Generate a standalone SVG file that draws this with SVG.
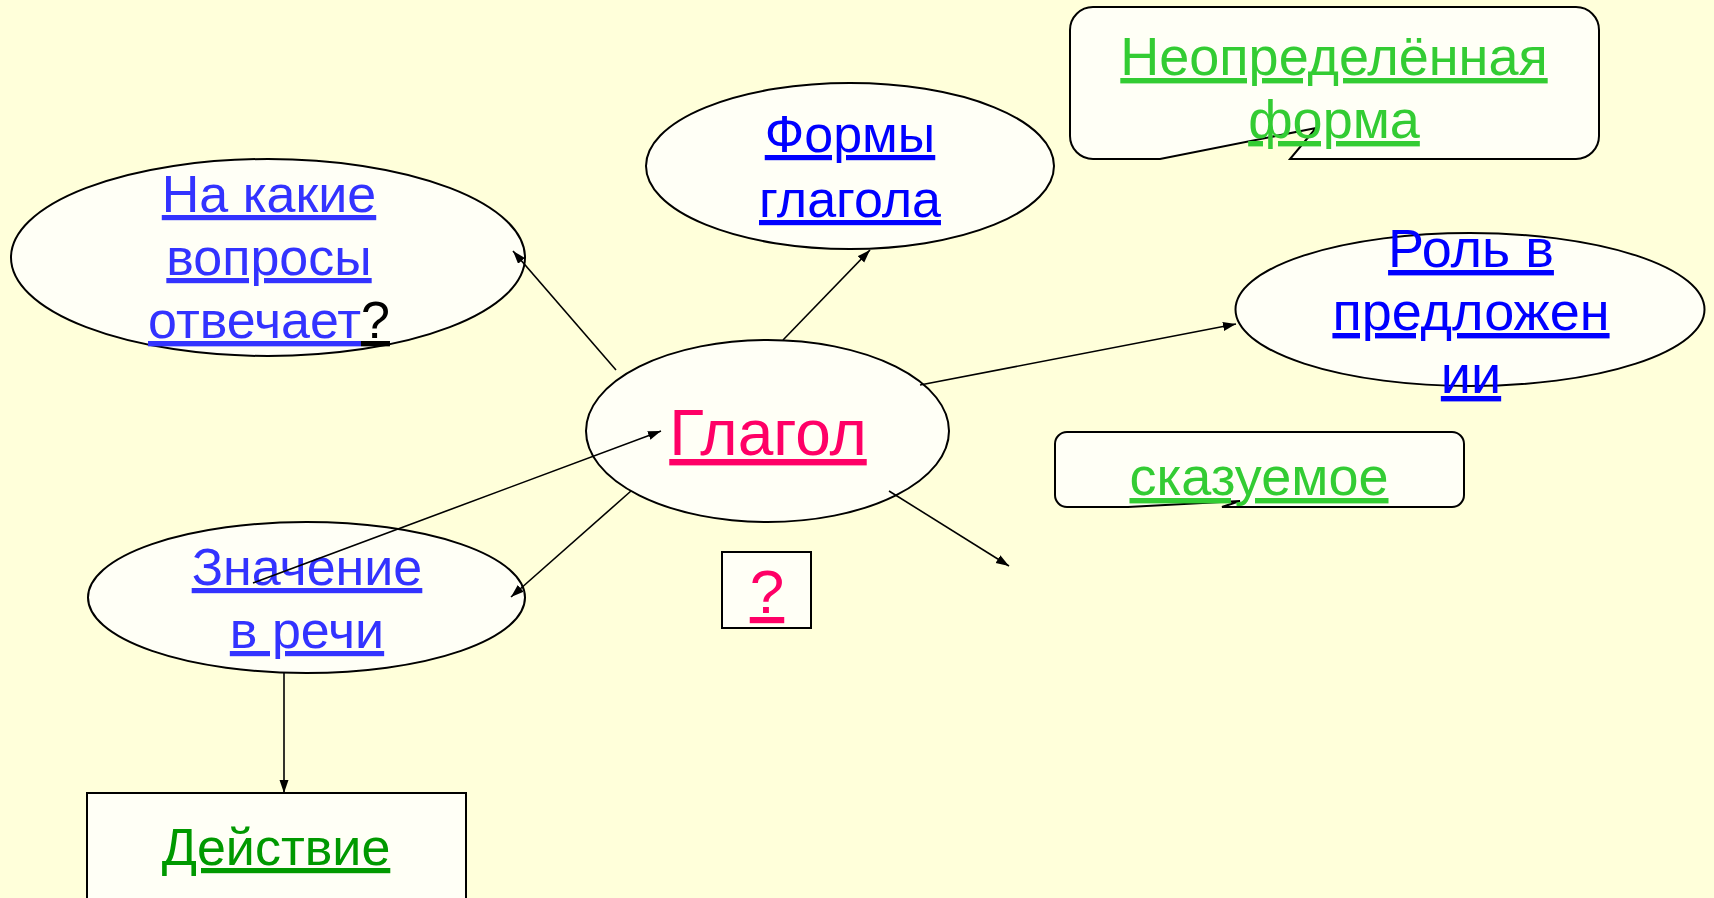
<svg xmlns="http://www.w3.org/2000/svg" width="1714" height="898" viewBox="0 0 1714 898">
<style>
.bg{fill:#FFFFDA}
.shape{fill:#FFFFF6;stroke:#000;stroke-width:2}
.t{font-family:"Liberation Sans",Arial,sans-serif;font-size:52px;text-anchor:middle;text-decoration:underline;text-decoration-thickness:4px}
.c{font-family:"Liberation Sans",Arial,sans-serif;font-size:54px;text-anchor:middle;text-decoration:underline;text-decoration-thickness:4px}
.blue1{fill:#3333FF}
.blue2{fill:#0000FF}
.green1{fill:#33CC33}
.green2{fill:#009900}
.pink{fill:#FF0066}
.conn line{stroke:#000;stroke-width:1.6;marker-end:url(#arr)}
</style>
<defs>
<marker id="arr" markerUnits="userSpaceOnUse" markerWidth="14" markerHeight="10" refX="13" refY="4.5" orient="auto">
<path d="M0,0 L13,4.5 L0,9 Z" fill="#000"/>
</marker>
</defs>
<rect class="bg" x="0" y="0" width="1714" height="898"/>

<g id="node-voprosy">
<ellipse class="shape" cx="268" cy="257.5" rx="257" ry="98.5"/>
<text class="t blue1" x="269" y="212">На какие</text>
<text class="t blue1" x="269" y="275">вопросы</text>
<text class="t" x="269" y="338"><tspan class="blue1" style="text-decoration:underline;text-decoration-thickness:4px">отвечает</tspan><tspan fill="#000" style="text-decoration:underline;text-decoration-thickness:4px">?</tspan></text>
</g>

<g id="node-formy">
<ellipse class="shape" cx="850" cy="166" rx="204" ry="83"/>
<text class="t blue2" x="850" y="152">Формы</text>
<text class="t blue2" x="850" y="217">глагола</text>
</g>

<g id="node-neopr">
<path class="shape" d="M1093,7 H1576 A23,23 0 0 1 1599,30 V136 A23,23 0 0 1 1576,159 H1290 L1316,128 L1160,159 H1093 A23,23 0 0 1 1070,136 V30 A23,23 0 0 1 1093,7 Z"/>
<text class="c green1" x="1334" y="75">Неопределённая</text>
<text class="c green1" x="1334" y="138">форма</text>
</g>

<g id="node-rol">
<ellipse class="shape" cx="1470" cy="309.5" rx="234.5" ry="76.5"/>
<text class="c blue2" x="1471" y="267">Роль в</text>
<text class="c blue2" x="1471" y="330">предложен</text>
<text class="c blue2" x="1471" y="393">ии</text>
</g>

<g id="node-glagol">
<ellipse class="shape" cx="767.5" cy="431" rx="181.5" ry="91"/>
<text class="t pink" x="768" y="455" style="font-size:64px;text-decoration-thickness:5px">Глагол</text>
</g>

<g id="node-q">
<rect class="shape" x="722" y="552" width="89" height="76"/>
<text class="t pink" x="767" y="613" style="font-size:62px;text-decoration-thickness:5px">?</text>
</g>

<g id="node-skaz">
<path class="shape" d="M1067,432 H1452 A12,12 0 0 1 1464,444 V495 A12,12 0 0 1 1452,507 H1222 L1240,501 L1128,507 H1067 A12,12 0 0 1 1055,495 V444 A12,12 0 0 1 1067,432 Z"/>
<text class="c green1" x="1259" y="495">сказуемое</text>
</g>

<g id="node-znachenie">
<ellipse class="shape" cx="306.5" cy="597.5" rx="218.5" ry="75.5"/>
<text class="t blue1" x="307" y="585">Значение</text>
<text class="t blue1" x="307" y="648">в речи</text>
</g>

<g id="node-deystvie">
<rect class="shape" x="87" y="793" width="379" height="120"/>
<text class="t green2" x="276" y="865">Действие</text>
</g>

<g id="connectors" class="conn">
<line x1="616" y1="370" x2="513" y2="251"/>
<line x1="783" y1="340" x2="870" y2="250"/>
<line x1="920" y1="385" x2="1236" y2="324"/>
<line x1="253" y1="583" x2="661" y2="431"/>
<line x1="631" y1="491" x2="511" y2="597"/>
<line x1="889" y1="491" x2="1009" y2="566"/>
<line x1="284" y1="673" x2="284" y2="793"/>
</g>
</svg>
